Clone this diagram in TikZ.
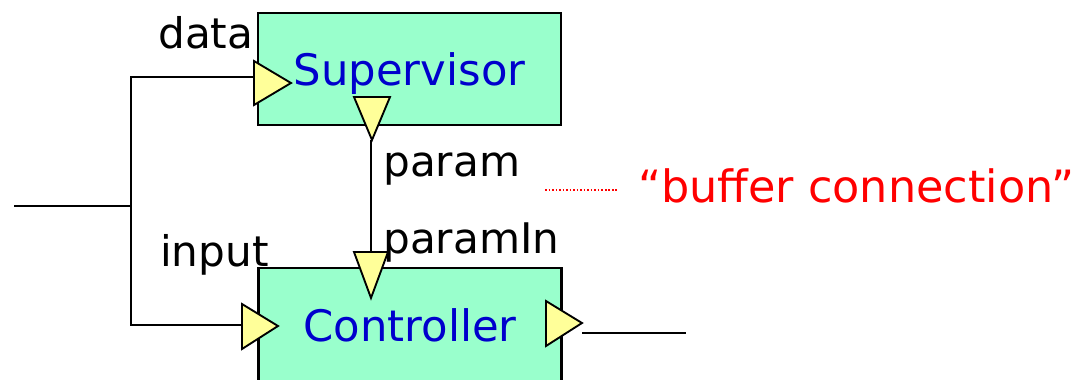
\documentclass[tikz,border=0pt]{standalone}
\usepackage{fontspec}
\setmainfont{DejaVu Sans}

\definecolor{blockgreen}{HTML}{99FFCC}
\definecolor{portyellow}{HTML}{FFFF99}
\definecolor{nameblue}{HTML}{0000CC}

\begin{document}
\begin{tikzpicture}[x = 0.03cm, y = -0.03cm,
	block/.style = {draw, fill = blockgreen, line width = 2pt, minimum width = 9.09cm, minimum height = 3.36cm, inner sep = 0pt, text = nameblue, font = \fontsize{37}{44}\selectfont, text depth = 0pt},
	port/.style = {draw, fill = portyellow, line width = 1.6pt},
	wire/.style = {line width = 2.4pt},
	portname/.style = {font = \fontsize{36}{43}\selectfont, anchor = base west, inner sep = 0pt}]

	% Frame
	
	\useasboundingbox (0, 0) rectangle (1089, 379);
	\clip (0, 0) rectangle (1089, 379);

	% Draw blocks
	
	\node [block] (sup) at (409.5, 69) {Supervisor};
	\node [block, minimum height = 3.45cm] (ctrl) at (410, 325.5) {Controller};

	% Port points
	
	\coordinate (data) at (254, 77);
	\coordinate (param) at (371, 140);
	\coordinate (paramIn) at (371, 252);
	\coordinate (input) at (242, 325);
	\coordinate (output) at (582, 333);
	\coordinate (ext in) at (14, 206);
	\coordinate (split) at (131, 206);
	\coordinate (ext out) at (686, 333);

	% Draw wires
	
	\draw [wire] (ext in) -- (split);
	\draw [wire] (data) -| (split) |- (input);
	\draw [wire] (param) -- (paramIn);
	\draw [wire] (output) -- (ext out);

	% Draw ports
	
	\draw [port] (254, 61) -- (291, 83) -- (254, 105) -- cycle;		% data
	\draw [port] (354, 97) -- (390, 97) -- (372, 140) -- cycle;		% param
	\draw [port] (354, 252) -- (388, 252) -- (371, 298) -- cycle;	% paramIn
	\draw [port] (242, 304) -- (278, 326) -- (242, 349) -- cycle;	% input
	\draw [port] (546, 301) -- (582, 323) -- (546, 346) -- cycle;	% output

	% Port names
	
	\node [portname] (data label) at (158, 48) {data};
	\node [portname] (param label) at (383, 176) {param};
	\node [portname] (paramIn label) at (383, 253) {paramIn};
	\node [portname] (input label) at (160, 266) {input};

	% Annotation
	
	\coordinate (dots start) at (545, 190);
	\coordinate (dots end) at (618, 190);
	\draw [red, line width = 1.5pt, dash pattern = on 1.5pt off 1.5pt] (dots start) -- (dots end);
	\node [red, font = \fontsize{38}{46}\selectfont, anchor = base west, inner sep = 0pt] (note) at (638, 202) {“buffer connection”};

\end{tikzpicture}
\end{document}
